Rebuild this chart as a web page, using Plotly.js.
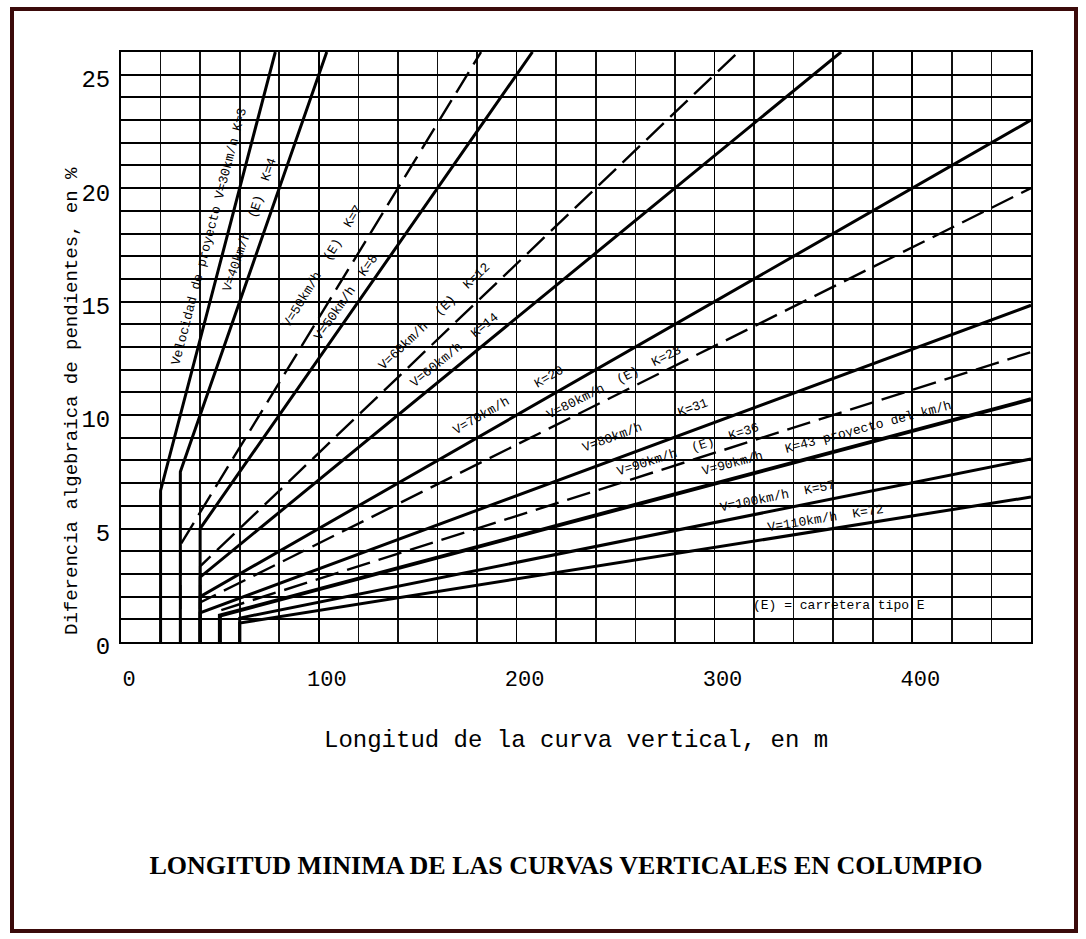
<!DOCTYPE html>
<html>
<head>
<meta charset="utf-8">
<script src="https://cdn.plot.ly/plotly-3.0.1.min.js"></script>
<style>
  html, body { margin: 0; padding: 0; background: #ffffff; }
  #chart { width: 1086px; height: 939px; }
</style>
</head>
<body>
<div id="chart"></div>
<script>
// ---------------- data ----------------
const designSpeed = ['30', '40', '50', '50', '60', '60', '70', '80', '80', '90', '90', '100', '110'];
const kValues     = [3, 4, 7, 8, 12, 14, 20, 23, 31, 36, 43, 57, 72];
const minLength   = [20, 30, 30, 40, 40, 40, 40, 40, 40, 50, 50, 60, 60];
const roadTypeE   = [false, false, true, false, true, false, false, true, false, true, false, false, false];
const lineLabels  = [
  'Velocidad de proyecto V=30km/h K=3',
  'V=40km/h  (E)  K=4',
  'V=50km/h  (E)  K=7',
  'V=50km/h  K=8',
  'V=60km/h  (E)  K=12',
  'V=60km/h  K=14',
  'V=70km/h    K=20',
  'V=80km/h  (E)  K=23',
  'V=80km/h     K=31',
  'V=90km/h  (E)  K=36',
  'V=90km/h   K=43 proyecto del km/h',
  'V=100km/h  K=57',
  'V=110km/h  K=72'
];
const xTickValues = [0, 100, 200, 300, 400];
const xTickLabels = ['0', '100', '200', '300', '400'];
const yTickValues = [0, 5, 10, 15, 20, 25];
const yTickLabels = ['0', '5', '10', '15', '20', '25'];
const noteText  = '(E) = carretera tipo E';
const titleText = 'LONGITUD MINIMA DE LAS CURVAS VERTICALES EN COLUMPIO';
const xTitle = 'Longitud de la curva vertical, en m';
const yTitle = 'Diferencia algebraica de pendientes, en %';

// ---------------- layout / style settings ----------------
const W = 1086, H = 939;
const M = { l: 121, r: 55, t: 52, b: 297 };
const xMax = 460, yMax = 26;
const plotW = W - M.l - M.r, plotH = H - M.t - M.b;
// label placement along each line: [length at label centre, offset in px]
const labelPlace = [
  [53, 17], [72.7, 16], [112, 23], [119, 13], [165, 19], [173, 14.5],
  [200, 17], [252, 12], [268.7, 21], [288.5, 11], [358.6, 15], [333, 13.5], [357, 11.5]
];
const monoFont = 'Liberation Mono, DejaVu Sans Mono, monospace';

const traces = kValues.map((K, i) => {
  const L0 = minLength[i];
  const Lend = Math.min(xMax, yMax * K);
  return {
    type: 'scatter', mode: 'lines',
    name: 'V=' + designSpeed[i] + ' K=' + K,
    x: [L0, L0, Lend],
    y: [0, L0 / K, Lend / K],
    line: roadTypeE[i]
      ? { color: '#000', width: 2.4, dash: '24px,9px' }
      : { color: '#000', width: (K === 43 ? 4 : 3) },
    hoverinfo: 'skip',
    cliponaxis: true
  };
});

const pxPerL = plotW / xMax, pxPerA = plotH / yMax;
const annotations = kValues.map((K, i) => {
  const [Lc, d] = labelPlace[i];
  const th = Math.atan((pxPerA / K) / pxPerL);
  return {
    xref: 'x', yref: 'y', x: Lc, y: Lc / K,
    text: lineLabels[i], showarrow: false,
    textangle: -th * 180 / Math.PI,
    xanchor: 'center', yanchor: 'middle',
    xshift: -d * Math.sin(th), yshift: d * Math.cos(th),
    font: { family: monoFont, size: 13, color: '#000' }
  };
});
annotations.push({
  xref: 'paper', yref: 'paper', x: (839 - M.l) / plotW, y: (H - M.b - 605) / plotH,
  text: noteText, showarrow: false, xanchor: 'center', yanchor: 'middle',
  font: { family: monoFont, size: 13, color: '#000' }
});
annotations.push({
  xref: 'paper', yref: 'paper', x: 0.5, y: 0, yshift: -98,
  text: xTitle, showarrow: false, xanchor: 'center', yanchor: 'middle',
  font: { family: monoFont, size: 24, color: '#000' }
});
annotations.push({
  xref: 'paper', yref: 'paper', x: 0, xshift: -49, y: (H - M.b - 401) / plotH,
  text: yTitle, showarrow: false, textangle: -90, xanchor: 'center', yanchor: 'middle',
  font: { family: monoFont, size: 19, color: '#000' }
});

const frameColor = '#3b0a0a';
const px2x = p => (p - M.l) / plotW;
const px2y = p => (H - M.b - p) / plotH;

const layout = {
  width: W, height: H,
  margin: M,
  paper_bgcolor: '#ffffff', plot_bgcolor: '#ffffff',
  showlegend: false,
  title: {
    text: '<b>' + titleText + '</b>',
    font: { family: 'Liberation Serif, Times New Roman, serif', size: 26, color: '#000' },
    x: 566 / W, xanchor: 'center', xref: 'container',
    y: 1 - 865 / H, yanchor: 'middle', yref: 'container'
  },
  xaxis: {
    range: [0, xMax], fixedrange: true,
    tickmode: 'array', tickvals: xTickValues, ticktext: xTickLabels,
    ticks: '', ticklabelstandoff: 16, ticklabelshift: 8,
    tickfont: { family: monoFont, size: 22, color: '#000' },
    showgrid: true, gridcolor: '#000', gridwidth: 1.6,
    minor: { dtick: 20, tick0: 0, showgrid: true, gridcolor: '#111', gridwidth: 1.6, ticks: '' },
    zeroline: false,
    showline: true, mirror: true, linecolor: '#000', linewidth: 2
  },
  yaxis: {
    range: [0, yMax], fixedrange: true,
    tickmode: 'array', tickvals: yTickValues, ticktext: yTickLabels,
    ticks: '', ticklabelstandoff: 4, ticklabelshift: 4,
    tickfont: { family: monoFont, size: 24, color: '#000' },
    showgrid: true, gridcolor: '#000', gridwidth: 2,
    minor: { dtick: 1, tick0: 0, showgrid: true, gridcolor: '#000', gridwidth: 2, ticks: '' },
    zeroline: false,
    showline: true, mirror: true, linecolor: '#000', linewidth: 2
  },
  annotations: annotations,
  shapes: [{
    type: 'rect', xref: 'paper', yref: 'paper', layer: 'above',
    x0: px2x(12), x1: px2x(1076), y0: px2y(931), y1: px2y(9),
    line: { color: frameColor, width: 4 }, fillcolor: 'rgba(0,0,0,0)'
  }]
};

Plotly.newPlot('chart', traces, layout, { staticPlot: true, displayModeBar: false });
</script>
</body>
</html>
